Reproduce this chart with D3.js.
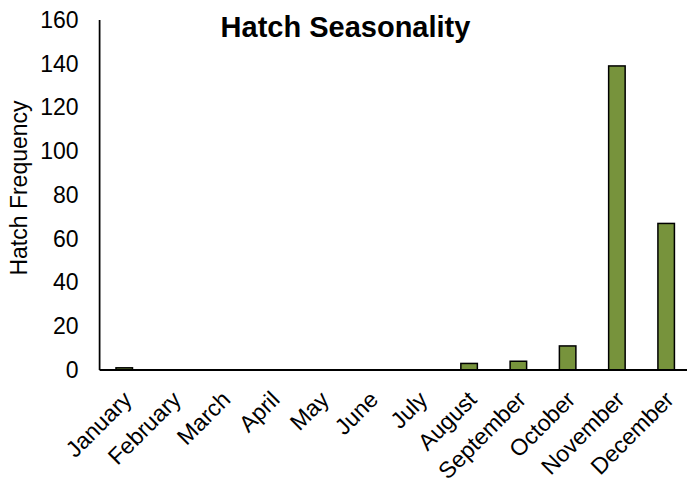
<!DOCTYPE html>
<html>
<head>
<meta charset="utf-8">
<script src="https://cdn.jsdelivr.net/npm/d3@7"></script>
<style>
  html, body { margin: 0; padding: 0; background: #fff; }
  svg { display: block; }
  text { font-family: "Liberation Sans", Arial, sans-serif; fill: #000; }
</style>
</head>
<body>
<svg id="chart" width="687" height="480"></svg>
<script>
const months = ["January","February","March","April","May","June","July","August","September","October","November","December"];
const hatchCounts = [1, 0, 0, 0, 0, 0, 0, 3, 4, 11, 139, 67];
const yTicks = [0, 20, 40, 60, 80, 100, 120, 140, 160];
const chartTitle = "Hatch Seasonality";
const yTitle = "Hatch Frequency";

const svg = d3.select("#chart");
const W = 687, H = 480;
const mLeft = 99.6, mRight = 690.8, mTop = 20, mBottom = 370;

const x = d3.scaleBand().domain(months).range([mLeft, mRight]).paddingInner(0.665).paddingOuter(0.3325);
const y = d3.scaleLinear().domain([0, 160]).range([mBottom, mTop]);

// bars
svg.append("g").selectAll("rect").data(months.map((m, i) => ({m, v: hatchCounts[i]})))
  .join("rect")
  .attr("x", d => x(d.m))
  .attr("y", d => y(d.v))
  .attr("width", x.bandwidth())
  .attr("height", d => y(0) - y(d.v))
  .attr("fill", "#77933C")
  .attr("stroke", "#000")
  .attr("stroke-width", 1.5);

// y axis
const yAxis = d3.axisLeft(y).tickValues(yTicks).tickSize(0).tickPadding(21);
const gy = svg.append("g").attr("transform", `translate(${mLeft},0)`).call(yAxis);
gy.select(".domain").attr("stroke", "#000").attr("stroke-width", 1.75).attr("d", `M0,${mTop}V${mBottom}`);
gy.selectAll("text").attr("font-size", 23).attr("font-family", "Liberation Sans, Arial, sans-serif").attr("fill", "#000");

// x axis
const xAxis = d3.axisBottom(x).tickSize(0).tickFormat(d => d);
const gx = svg.append("g").attr("transform", `translate(0,${mBottom})`).call(xAxis);
gx.select(".domain").attr("stroke", "#000").attr("stroke-width", 2).attr("d", `M${mLeft},0H${W}`);
gx.selectAll(".tick text")
  .attr("font-size", 23)
  .attr("font-family", "Liberation Sans, Arial, sans-serif")
  .attr("fill", "#000")
  .attr("text-anchor", "end")
  .attr("dy", null)
  .attr("y", null)
  .attr("transform", "translate(9,31) rotate(-45)");

// y title
svg.append("text")
  .attr("transform", `translate(26.5,188) rotate(-90)`)
  .attr("text-anchor", "middle")
  .attr("font-size", 23)
  .text(yTitle);

// chart title
svg.append("text")
  .attr("x", 345.5).attr("y", 37)
  .attr("text-anchor", "middle")
  .attr("font-size", 29)
  .attr("font-weight", "bold")
  .text(chartTitle);
</script>
</body>
</html>
